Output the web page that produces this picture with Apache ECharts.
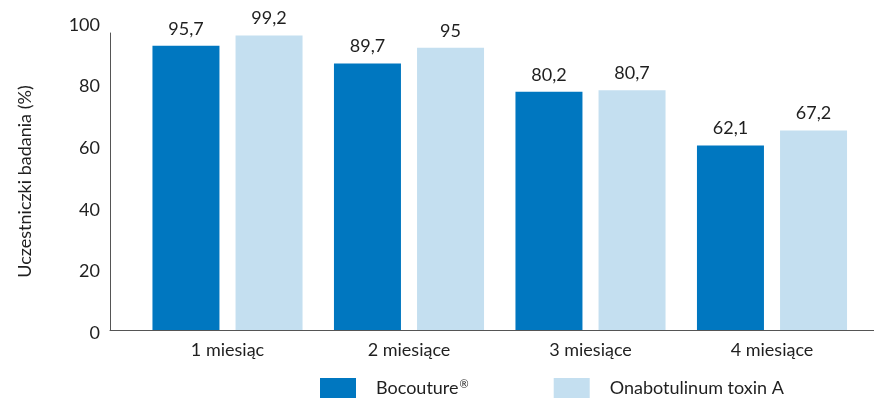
<!DOCTYPE html>
<html>
<head>
<meta charset="utf-8">
<script src="https://cdn.jsdelivr.net/npm/echarts@6/dist/echarts.min.js"></script>
<style>
html,body{margin:0;padding:0;background:#fff;}
#c{width:874px;height:398px;}
</style>
</head>
<body>
<div id="c"></div>
<script>
var categories = ['1 miesiąc', '2 miesiące', '3 miesiące', '4 miesiące'];
var seriesNames = ['Bocouture®', 'Onabotulinum toxin A'];
var bocouture = [95.7, 89.7, 80.2, 62.1];
var onabotulinum = [99.2, 95, 80.7, 67.2];
var yTicks = [0, 20, 40, 60, 80, 100];

var FONT = 'Lato';
var TXT = '#1f1f1f';
var FS = 18;
var chart = echarts.init(document.getElementById('c'));
function fmt(p){ return String(p.value).replace('.', ','); }
chart.setOption({
  animation: false,
  textStyle: {fontFamily: FONT, color: TXT},
  grid: [
    {left: 136.75, right: 11.25, top: 33, bottom: 68},
    {left: 110, right: 0, top: 33, bottom: 68},
    {left: 110, right: 0, top: 25, bottom: 65}
  ],
  legend: {
    left: 315, top: 373,
    itemWidth: 36, itemHeight: 20, itemGap: 85,
    icon: 'rect',
    formatter: function(name){
      if (name.indexOf('®') >= 0) return '{a|' + name.replace('®', '') + '}{s|®}';
      return '{a|' + name + '}';
    },
    textStyle: {fontFamily: FONT, fontSize: FS, color: TXT, padding: [0, 0, 0, 15],
      rich: {
        a: {fontFamily: FONT, fontSize: FS, color: TXT},
        s: {fontFamily: FONT, fontSize: 11, color: TXT, verticalAlign: 'top', padding: [0, 0, 8, 1]}
      }},
    data: seriesNames
  },
  xAxis: [
    {gridIndex: 0, type: 'category', data: categories,
     axisLine: {show: false}, axisTick: {show: false},
     axisLabel: {fontFamily: FONT, fontSize: FS, color: TXT, margin: 11}},
    {gridIndex: 1, type: 'value', min: 0, max: 1,
     axisLine: {show: true, onZero: false, lineStyle: {color: '#555', width: 1}},
     axisTick: {show: false}, axisLabel: {show: false}, splitLine: {show: false}},
    {gridIndex: 2, type: 'value', show: false}
  ],
  yAxis: [
    {gridIndex: 0, type: 'value', min: 0, max: 100, show: false},
    {gridIndex: 1, type: 'value', min: 0, max: 100,
     name: 'Uczestniczki badania (%)', nameLocation: 'middle', nameGap: 76,
     nameTextStyle: {fontFamily: FONT, fontSize: FS, color: TXT},
     axisLine: {show: true, onZero: false, lineStyle: {color: '#555', width: 1}},
     axisTick: {show: false}, axisLabel: {show: false}, splitLine: {show: false}},
    {gridIndex: 2, type: 'value', min: yTicks[0], max: yTicks[yTicks.length - 1], interval: 20,
     axisLine: {show: false}, axisTick: {show: false}, splitLine: {show: false},
     axisLabel: {fontFamily: FONT, fontSize: FS, color: TXT, margin: 10}}
  ],
  series: [
    {name: seriesNames[0], type: 'bar', xAxisIndex: 0, yAxisIndex: 0,
     data: bocouture, barWidth: 67, barGap: '24%',
     itemStyle: {color: '#0077C0'},
     label: {show: true, position: 'top', distance: 8, formatter: fmt,
             fontFamily: FONT, fontSize: FS, color: TXT}},
    {name: seriesNames[1], type: 'bar', xAxisIndex: 0, yAxisIndex: 0,
     data: onabotulinum, barWidth: 67, barGap: '24%',
     itemStyle: {color: '#C4DFF0'},
     label: {show: true, position: 'top', distance: 8, formatter: fmt,
             fontFamily: FONT, fontSize: FS, color: TXT}}
  ]
});
</script>
</body>
</html>
